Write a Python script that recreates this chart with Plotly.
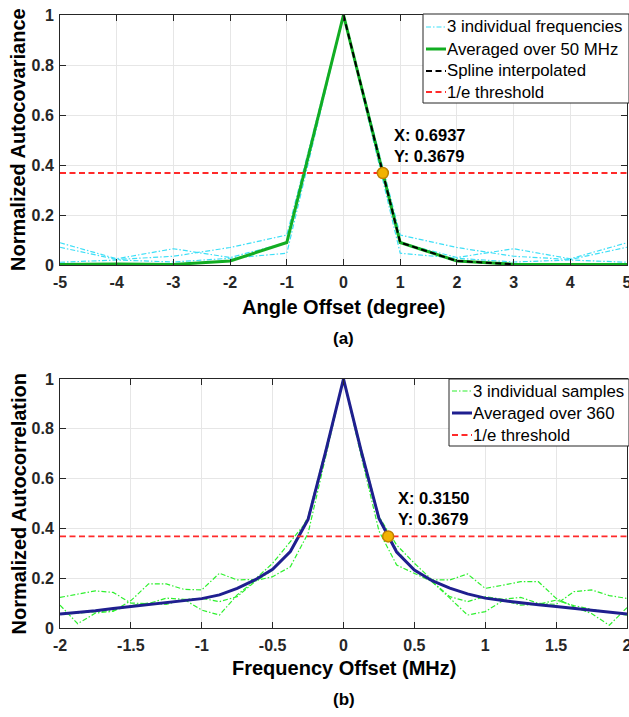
import numpy as np
import plotly.graph_objects as go

# ---------------- (a) angular autocovariance ----------------
angle = [-5, -4, -3, -2, -1, 0, 1, 2, 3, 4, 5]
freq_a = [0.071, 0.022, 0.035, 0.070, 0.120, 1.0, 0.120, 0.070, 0.035, 0.022, 0.071]
freq_b = [0.089, 0.025, 0.065, 0.030, 0.089, 1.0, 0.089, 0.030, 0.065, 0.025, 0.089]
freq_c = [0.011, 0.020, 0.012, 0.027, 0.047, 1.0, 0.047, 0.027, 0.012, 0.020, 0.011]
avg_50mhz = [0.002, 0.004, 0.002, 0.016, 0.090, 1.0, 0.090, 0.016, 0.003, 0.004, 0.002]
spline_x = [0, 1, 2, 3]
spline_y = [1.0, 0.090, 0.016, 0.003]
cross_a = (0.6937, 0.3679)
ticks_a = [-5, -4, -3, -2, -1, 0, 1, 2, 3, 4, 5]
ticklabels_a = ["-5", "-4", "-3", "-2", "-1", "0", "1", "2", "3", "4", "5"]

# ---------------- (b) frequency autocorrelation ----------------
foff = np.linspace(-2, 2, 33)
samp_p = [0.123, 0.136, 0.149, 0.143, 0.100, 0.098, 0.120, 0.115, 0.119, 0.106, 0.126, 0.186, 0.233,
          0.310, 0.447, 0.720, 1.0, 0.720, 0.447, 0.313, 0.233, 0.186, 0.126, 0.106, 0.126, 0.115,
          0.123, 0.099, 0.095, 0.146, 0.153, 0.130, 0.119]
samp_q = [0.092, 0.017, 0.060, 0.067, 0.110, 0.177, 0.177, 0.155, 0.153, 0.220, 0.193, 0.195, 0.260,
          0.347, 0.434, 0.700, 1.0, 0.700, 0.447, 0.333, 0.260, 0.193, 0.193, 0.217, 0.159, 0.172,
          0.186, 0.186, 0.119, 0.085, 0.058, 0.011, 0.082]
samp_r = [0.055, 0.060, 0.065, 0.070, 0.090, 0.100, 0.095, 0.115, 0.072, 0.052, 0.133, 0.190, 0.206,
          0.246, 0.380, 0.690, 1.0, 0.690, 0.390, 0.253, 0.220, 0.186, 0.120, 0.052, 0.066, 0.110,
          0.092, 0.095, 0.112, 0.090, 0.075, 0.062, 0.052]
avg_360 = [0.056, 0.062, 0.069, 0.078, 0.086, 0.093, 0.100, 0.109, 0.118, 0.133, 0.159, 0.193, 0.236,
           0.307, 0.436, 0.710, 1.0, 0.710, 0.440, 0.305, 0.233, 0.190, 0.160, 0.137, 0.120, 0.110,
           0.100, 0.093, 0.086, 0.078, 0.069, 0.062, 0.056]
cross_b = (0.3150, 0.3679)
ticks_b = [-2, -1.5, -1, -0.5, 0, 0.5, 1, 1.5, 2]
ticklabels_b = ["-2", "-1.5", "-1", "-0.5", "0", "0.5", "1", "1.5", "2"]

threshold = 0.3679
yticks = [0, 0.2, 0.4, 0.6, 0.8, 1]
yticklabels = ["0", "0.2", "0.4", "0.6", "0.8", "1"]

FONT = "Liberation Sans"
INK = "#262626"
CYAN = "#3ddff7"
GREEN = "#12ad22"
LIME = "#2ef02e"
NAVY = "#1f1f8f"
RED = "#ff2a2a"
DASHDOT = "5px,2px,1.5px,2px"
DASH = "6px,3.5px"

# page geometry (pixels) used to place the panels, legends and captions
W, H = 629, 717
L, R, T, B = 60, 627, 15, 628


def px(x):
    return (x - L) / (R - L)


def py(y):
    return (B - y) / (B - T)


fig = go.Figure()

# (a) traces
for ys in [freq_a, freq_b, freq_c]:
    fig.add_trace(go.Scatter(x=angle, y=ys, mode="lines", xaxis="x", yaxis="y",
                             line=dict(color=CYAN, width=1.2, dash=DASHDOT)))
fig.add_trace(go.Scatter(x=angle, y=avg_50mhz, mode="lines", xaxis="x", yaxis="y",
                         line=dict(color=GREEN, width=3)))
fig.add_trace(go.Scatter(x=spline_x, y=spline_y, mode="lines", xaxis="x", yaxis="y",
                         line=dict(color="black", width=2, dash=DASH)))
fig.add_trace(go.Scatter(x=[-5, 5], y=[threshold, threshold], mode="lines", xaxis="x", yaxis="y",
                         line=dict(color=RED, width=1.8, dash=DASH)))
fig.add_trace(go.Scatter(x=[cross_a[0]], y=[cross_a[1]], mode="markers", xaxis="x", yaxis="y",
                         marker=dict(size=11, color="#f2b200", line=dict(color="#c08000", width=1.5))))

# (b) traces
for ys in [samp_p, samp_q, samp_r]:
    fig.add_trace(go.Scatter(x=foff, y=ys, mode="lines", xaxis="x2", yaxis="y2",
                             line=dict(color=LIME, width=1.2, dash=DASHDOT)))
fig.add_trace(go.Scatter(x=foff, y=avg_360, mode="lines", xaxis="x2", yaxis="y2",
                         line=dict(color=NAVY, width=3)))
fig.add_trace(go.Scatter(x=[-2, 2], y=[threshold, threshold], mode="lines", xaxis="x2", yaxis="y2",
                         line=dict(color=RED, width=1.8, dash=DASH)))
fig.add_trace(go.Scatter(x=[cross_b[0]], y=[cross_b[1]], mode="markers", xaxis="x2", yaxis="y2",
                         marker=dict(size=11, color="#f2b200", line=dict(color="#c08000", width=1.5))))

tickfont = dict(family=FONT, size=16, color=INK, weight="bold")
axis_common = dict(showline=True, mirror="ticks", linecolor=INK, linewidth=1,
                   ticks="inside", ticklen=6, tickcolor=INK, showgrid=True,
                   gridcolor="#e6e6e6", gridwidth=1, zeroline=False, tickfont=tickfont,
                   ticklabeloverflow="allow", automargin=False)

fig.update_layout(
    width=W, height=H,
    margin=dict(l=L, r=W - R, t=T, b=H - B, autoexpand=False),
    paper_bgcolor="white", plot_bgcolor="white",
    font=dict(family=FONT, color="black"),
    showlegend=False,
    xaxis=dict(domain=[0, 1], anchor="y", range=[-5, 5], tickvals=ticks_a, ticktext=ticklabels_a,
               ticklabelstandoff=3, **axis_common),
    yaxis=dict(domain=[py(265), 1.0], anchor="x", range=[0, 1], tickvals=yticks,
               ticktext=yticklabels, ticklabelstandoff=2, **axis_common),
    xaxis2=dict(domain=[0, 1], anchor="y2", range=[-2, 2], tickvals=ticks_b, ticktext=ticklabels_b,
                ticklabelstandoff=3, **axis_common),
    yaxis2=dict(domain=[0, py(379)], anchor="x2", range=[0, 1], tickvals=yticks,
                ticktext=yticklabels, ticklabelstandoff=2, **axis_common),
)

# axis titles and panel captions
title_font = dict(family=FONT, size=20, color="black", weight="bold")
cap_font = dict(family=FONT, size=17, color="black", weight="bold")
for text, cy in [("Angle Offset (degree)", 307), ("Frequency Offset (MHz)", 668)]:
    fig.add_annotation(x=px(343.5), y=py(cy), xref="paper", yref="paper", text=text,
                       showarrow=False, font=title_font, xanchor="center", yanchor="middle")
for text, cy in [("(a)", 338), ("(b)", 700)]:
    fig.add_annotation(x=px(343.5), y=py(cy), xref="paper", yref="paper", text=text,
                       showarrow=False, font=cap_font, xanchor="center", yanchor="middle")
for text, cy in [("Normalized Autocovariance", 140), ("Normalized Autocorrelation", 503.5)]:
    fig.add_annotation(x=px(18), y=py(cy), xref="paper", yref="paper", text=text, textangle=-90,
                       showarrow=False, font=title_font, xanchor="center", yanchor="middle")

# data-tip labels at the 1/e crossings
note_font = dict(family=FONT, size=16.5, color="black", weight="bold")
fig.add_annotation(x=0.855, y=0.392, xref="x", yref="y", xanchor="left", yanchor="bottom",
                   align="left", showarrow=False, font=note_font,
                   text=f"X: {cross_a[0]:.4f}<br>Y: {cross_a[1]:.4f}")
fig.add_annotation(x=0.37, y=0.393, xref="x2", yref="y2", xanchor="left", yanchor="bottom",
                   align="left", showarrow=False, font=note_font,
                   text=f"X: {cross_b[0]:.4f}<br>Y: {cross_b[1]:.4f}")

# legends: boxed entries with short line samples
leg_font = dict(family=FONT, size=16.8, color="black")


def draw_legend(box, rows):
    x0, y0, x1, y1 = box
    fig.add_shape(type="rect", xref="paper", yref="paper", x0=px(x0), x1=px(x1), y0=py(y0), y1=py(y1),
                  line=dict(color=INK, width=1), fillcolor="white", layer="above")
    for cy, label, color, width, dash in rows:
        fig.add_shape(type="line", xref="paper", yref="paper", x0=px(x0 + 3), x1=px(x0 + 23),
                      y0=py(cy), y1=py(cy), line=dict(color=color, width=width, dash=dash),
                      layer="above")
        fig.add_annotation(x=px(x0 + 22), y=py(cy), xref="paper", yref="paper", text=label,
                           showarrow=False, font=leg_font, xanchor="left", yanchor="middle")


draw_legend((423, 14, 629, 103), [
    (27, "3 individual frequencies", CYAN, 1.2, DASHDOT),
    (49, "Averaged over 50 MHz", GREEN, 3, "solid"),
    (71, "Spline interpolated", "black", 2, DASH),
    (92, "1/e threshold", RED, 1.8, DASH),
])
draw_legend((449, 379, 629, 446), [
    (391, "3 individual samples", LIME, 1.2, DASHDOT),
    (413, "Averaged over 360", NAVY, 3, "solid"),
    (435, "1/e threshold", RED, 1.8, DASH),
])

fig.write_html("out.html")
